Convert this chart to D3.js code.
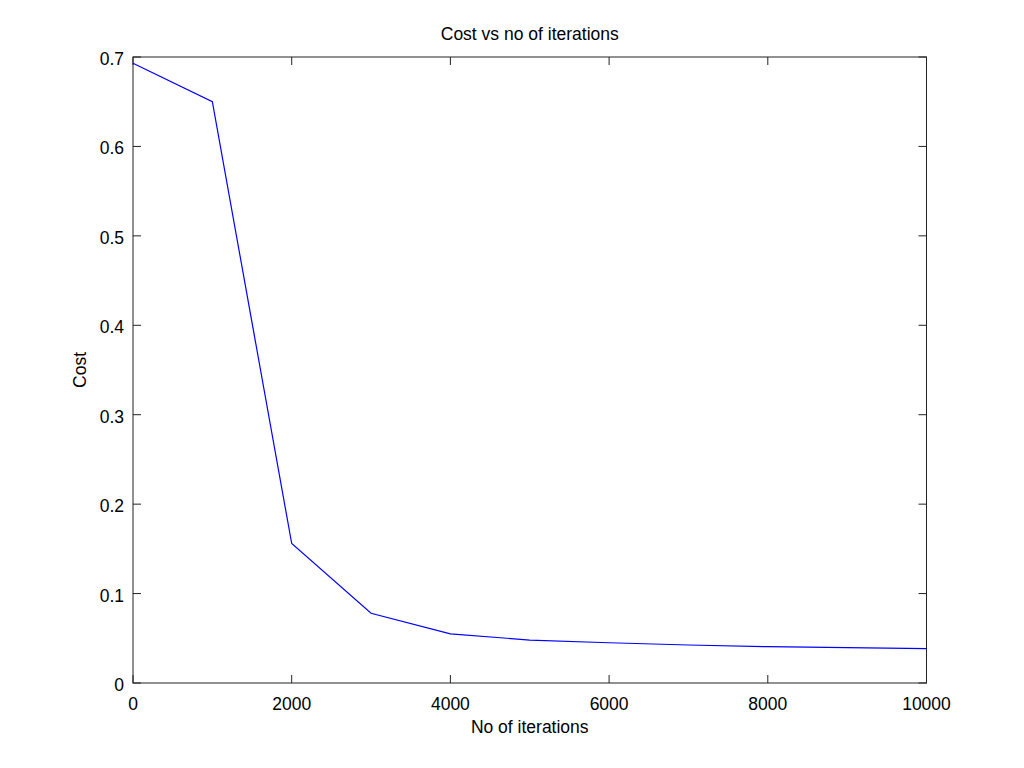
<!doctype html>
<html>
<head>
    <style>
        body { margin: 0; background: #fff; }
        text { font-family: "Liberation Sans", Arial, sans-serif; }
    </style>
    <script src="https://d3js.org/d3.v7.min.js"></script>
</head>
<body>
<svg width="1024" height="768"></svg>

<script>
    // data
    var iterations = [0, 1000, 2000, 3000, 4000, 5000, 6000, 7000, 8000, 9000, 10000];
    var cost = [0.693, 0.650, 0.156, 0.078, 0.055, 0.048, 0.045, 0.0425, 0.0406, 0.0395, 0.0385];
    var xTicks = [0, 2000, 4000, 6000, 8000, 10000];
    var yTicks = [0, 0.1, 0.2, 0.3, 0.4, 0.5, 0.6, 0.7];

    var svg = d3.select("svg"),
        plotLeft = 133, plotRight = 926.5, plotTop = 57, plotBottom = 683,
        tickLen = 8,
        fontSize = "17.5px";

    var x = d3.scaleLinear().domain([0, 10000]).range([plotLeft, plotRight]),
        y = d3.scaleLinear().domain([0, 0.7]).range([plotBottom, plotTop]);

    // frame
    svg.append("rect")
       .attr("x", plotLeft).attr("y", plotTop)
       .attr("width", plotRight - plotLeft).attr("height", plotBottom - plotTop)
       .attr("fill", "none").attr("stroke", "#222").attr("stroke-width", 1);

    // inward ticks on all four sides
    var g = svg.append("g").attr("stroke", "#222").attr("stroke-width", 1);
    xTicks.forEach(function(t) {
        g.append("line").attr("x1", x(t)).attr("x2", x(t)).attr("y1", plotBottom).attr("y2", plotBottom - tickLen);
        g.append("line").attr("x1", x(t)).attr("x2", x(t)).attr("y1", plotTop).attr("y2", plotTop + tickLen);
    });
    yTicks.forEach(function(t) {
        g.append("line").attr("y1", y(t)).attr("y2", y(t)).attr("x1", plotLeft).attr("x2", plotLeft + tickLen);
        g.append("line").attr("y1", y(t)).attr("y2", y(t)).attr("x1", plotRight).attr("x2", plotRight - tickLen);
    });

    // tick labels
    svg.selectAll(".xl")
       .data(xTicks)
       .enter().append("text")
       .attr("class", "xl")
       .attr("x", function(d) { return x(d); })
       .attr("y", plotBottom + 27)
       .attr("text-anchor", "middle")
       .attr("font-size", fontSize)
       .text(function(d) { return d; });

    svg.selectAll(".yl")
       .data(yTicks)
       .enter().append("text")
       .attr("class", "yl")
       .attr("x", plotLeft - 9)
       .attr("y", function(d) { return y(d) + 8; })
       .attr("text-anchor", "end")
       .attr("font-size", fontSize)
       .text(function(d) { return d === 0 ? "0" : d3.format(".1f")(d); });

    // line
    var line = d3.line()
        .x(function(d, i) { return x(iterations[i]); })
        .y(function(d) { return y(d); });

    svg.append("path")
       .datum(cost)
       .attr("fill", "none")
       .attr("stroke", "#0000ff")
       .attr("stroke-width", 1.2)
       .attr("d", line);

    // titles
    svg.append("text")
       .attr("x", (plotLeft + plotRight) / 2)
       .attr("y", 40)
       .attr("text-anchor", "middle")
       .attr("font-size", fontSize)
       .text("Cost vs no of iterations");

    svg.append("text")
       .attr("x", (plotLeft + plotRight) / 2)
       .attr("y", 733)
       .attr("text-anchor", "middle")
       .attr("font-size", fontSize)
       .text("No of iterations");

    svg.append("text")
       .attr("transform", "translate(86," + ((plotTop + plotBottom) / 2) + ")rotate(-90)")
       .attr("text-anchor", "middle")
       .attr("font-size", fontSize)
       .text("Cost");
</script>
</body>
</html>
